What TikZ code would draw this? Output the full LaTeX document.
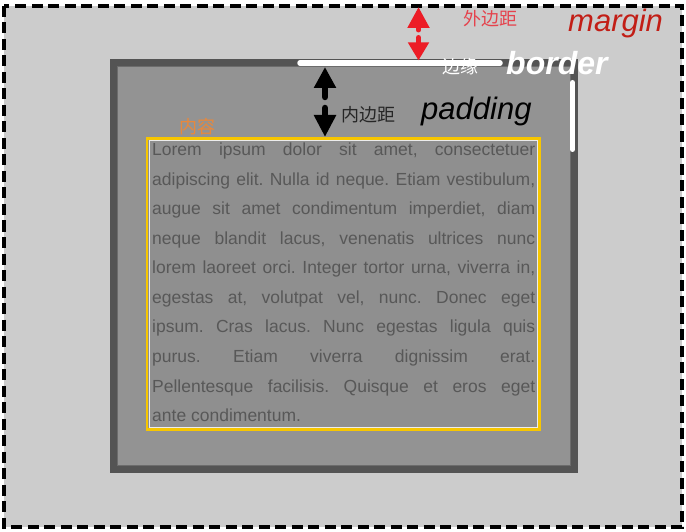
\documentclass[tikz,border=0pt]{standalone}
\usepackage{fontspec}
\setmainfont{Liberation Sans}
\newfontfamily\cjk{Noto Sans CJK SC}
\usetikzlibrary{arrows.meta}
\definecolor{margbg}{HTML}{CCCCCC}
\definecolor{bordc}{HTML}{545454}
\definecolor{padc}{HTML}{939393}
\definecolor{contc}{HTML}{8F8F8F}
\definecolor{yel}{HTML}{F7C600}
\definecolor{loremc}{HTML}{585858}
\definecolor{redarr}{HTML}{EC1C26}
\definecolor{redlab}{HTML}{E5424C}
\definecolor{marglab}{HTML}{C21E16}
\definecolor{orangelab}{HTML}{E8883C}
\tikzset{
  bigword/.style={font=\fontsize{31}{31}\selectfont\itshape, inner sep=0},
  cjklabel/.style={font=\cjk\fontsize{18}{18}\selectfont, inner sep=0},
  whitebar/.style={white, line width=5.5pt, line cap=round},
}
\begin{document}
\begin{tikzpicture}[x=1pt,y=-1pt]
\useasboundingbox (0,0) rectangle (686,532);
% margin area
\fill[margbg] (4,6) rectangle (682,527);
\draw[line width=3.5pt, dash pattern=on 11pt off 5.5pt] (4,6) rectangle (682,527);
% border and padding
\fill[bordc] (110,59) rectangle (577.5,473);
\fill[padc] (117,66.5) rectangle (570.5,466);
\draw[gray!85!black, line width=0.8pt] (117.4,66.9) rectangle (570.1,465.6);
% content
\fill[contc] (147,138.5) rectangle (539.5,429.5);
\draw[yel, line width=2.5pt] (147,138.5) rectangle (539.5,429.5);
\draw[white!85!gray, line width=0.8pt] (149.3,140.6) rectangle (537.3,427.2);
\node[anchor=base west, inner sep=0, text=loremc, font=\fontsize{17.5}{29.55}\selectfont] (lorem) at (152,155.7)
 {\parbox[t]{383pt}{\frenchspacing\parindent=0pt\parfillskip=0pt plus 1fil\relax
 Lorem ipsum dolor sit amet, consectetuer\linebreak
 adipiscing elit. Nulla id neque. Etiam vestibulum,\linebreak
 augue sit amet condimentum imperdiet, diam\linebreak
 neque blandit lacus, venenatis ultrices nunc\linebreak
 lorem laoreet orci. Integer tortor urna, viverra in,\linebreak
 egestas at, volutpat vel, nunc. Donec eget\linebreak
 ipsum. Cras lacus. Nunc egestas ligula quis\linebreak
 purus. Etiam viverra dignissim erat.\linebreak
 Pellentesque facilisis. Quisque et eros eget\linebreak
 ante condimentum.}};
% white border marks
\coordinate (hb1) at (300,63);
\coordinate (hb2) at (500,63);
\coordinate (vb1) at (572.5,82.5);
\coordinate (vb2) at (572.5,149.5);
\draw[whitebar] (hb1) -- (hb2);
\draw[whitebar, line width=5pt] (vb1) -- (vb2);
% red margin arrows
\coordinate (rm1) at (418.5,30);
\coordinate (rt) at (418.5,7);
\coordinate (rm2) at (418.5,37.5);
\coordinate (rb) at (418.5,60.5);
\draw[redarr, line width=5pt, line cap=round, -{Triangle[length=21pt,width=21pt]}] (rm1) -- (rt);
\draw[redarr, line width=5pt, line cap=round, -{Triangle[length=18pt,width=20pt]}] (rm2) -- (rb);
% black padding arrows
\coordinate (bm1) at (325,97);
\coordinate (bt) at (325,67);
\coordinate (bm2) at (325,108);
\coordinate (bb) at (325,137);
\draw[black, line width=6.5pt, line cap=round, -{Triangle[length=21pt,width=21pt]}] (bm1) -- (bt);
\draw[black, line width=6.5pt, line cap=round, -{Triangle[length=22pt,width=21pt]}] (bm2) -- (bb);
% labels
\node[cjklabel, text=redlab] (wbj) at (490,19) {外边距};
\node[bigword, text=marglab, anchor=base west] (margin) at (568,31.5) {margin};
\node[cjklabel, text=white] (by) at (460,67) {边缘};
\node[bigword, text=white, anchor=base west, font=\fontsize{32}{32}\selectfont\bfseries\itshape] (border) at (506,75) {border};
\node[cjklabel, text=black!85] (nbj) at (368,115) {内边距};
\node[bigword, text=black, anchor=base west] (padding) at (421,120) {padding};
\node[cjklabel, text=orangelab] (nr) at (197,127) {内容};
\end{tikzpicture}
\end{document}
